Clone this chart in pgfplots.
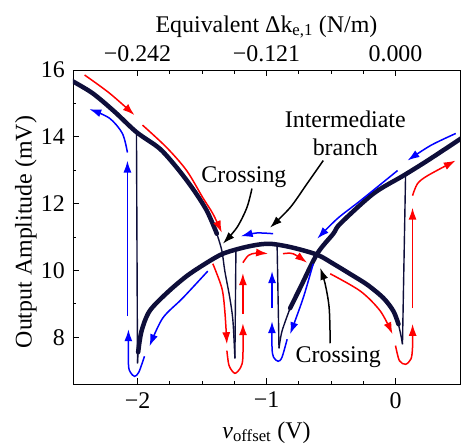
\documentclass[border=0pt]{standalone}
\usepackage{fontspec}
\setmainfont{Liberation Serif}
\usepackage{pgfplots}
\pgfplotsset{compat=1.18}
\usetikzlibrary{arrows.meta}
\definecolor{navy}{RGB}{14,14,58}
\newcommand{\bigf}{\rmfamily\fontsize{24}{28}\selectfont}
\begin{document}
\bigf
\begin{tikzpicture}
\pgfplotsset{
  thickc/.style={navy, line width=4.5bp, smooth, no markers, line cap=round, line join=round},
  thinc/.style={navy, line width=1.4bp, smooth, no markers},
  arr/.style={line width=1.5bp, smooth, no markers, -{Latex[length=12bp,width=8bp]}},
  rarr/.style={arr, red},
  barr/.style={arr, blue},
  karr/.style={arr, black},
  myticks/.style={
    tick label style={font=\bigf},
    label style={font=\bigf},
    tick align=inside,
    major tick length=6bp, minor tick length=3.5bp,
    axis line style={line width=0.9bp},
    every tick/.style={black, line width=0.9bp},
  },
}
\begin{axis}[
  myticks,
  scale only axis, width=387bp, height=314bp,
  xmin=-2.5, xmax=0.5, ymin=6.6, ymax=16,
  xtick={-2,-1,0}, xticklabels={−2,−1,0},
  ytick={8,10,12,14,16}, yticklabels={8,10,12,14,16},
  minor x tick num=3, minor y tick num=1,
  xtick pos=bottom, ytick pos=left,
  xlabel={\textit{v}\textsubscript{offset} (V)},
  ylabel={Output Amplitude (mV)},
  xlabel style={at={(axis description cs:0.5,-0.172)}, anchor=base, inner sep=0pt},
  ylabel style={at={(axis description cs:-0.150,0.484)}, anchor=north, inner sep=0pt},
]
% thick upper-left branch
\addplot[thickc] coordinates {(-2.52,15.70) (-2.35,15.31) (-2.18,14.76) (-2.008,14.14) (-1.829,13.65) (-1.696,13.08) (-1.572,12.45) (-1.463,11.79) (-1.385,11.10)};
\addplot[thinc] coordinates {(-1.385,11.10) (-1.346,10.59) (-1.323,9.98) (-1.284,9.17) (-1.26,8.48) (-1.245,7.37)};
% intermediate branch
\addplot[thinc] coordinates {(-2.0,7.22) (-1.995,7.6)};
\addplot[thickc] coordinates {(-1.995,7.55) (-1.969,8.18) (-1.907,8.78) (-1.774,9.32) (-1.619,9.83) (-1.463,10.23) (-1.338,10.5) (-1.183,10.68) (-1.05,10.78) (-0.949,10.79) (-0.794,10.68) (-0.607,10.47) (-0.482,10.2) (-0.35,9.89) (-0.218,9.57) (-0.093,9.17) (-0.016,8.78) (0.023,8.39)};
\addplot[thinc] coordinates {(0.023,8.39) (0.045,8.0) (0.054,7.79)};
% right rising branch
\addplot[thinc] coordinates {(-0.903,7.67) (-0.88,8.18) (-0.817,8.87)};
\addplot[thickc] coordinates {(-0.817,8.87) (-0.74,9.47) (-0.607,10.5) (-0.482,11.1) (-0.428,11.4) (-0.171,12.3) (0.062,12.84) (0.249,13.29) (0.52,13.98)};
% vertical jumps
\addplot[thinc] coordinates {(-2.0,7.22) (-2.008,14.14)};
\addplot[thinc] coordinates {(-1.245,7.37) (-1.237,10.62)};
\addplot[thinc] coordinates {(-0.903,7.67) (-0.918,10.8)};
\addplot[thinc] coordinates {(0.054,7.79) (0.078,12.84)};
% red arrows
\addplot[rarr] coordinates {(-2.41,15.85) (-2.218,15.31) (-2.023,14.65)};
\addplot[rarr] coordinates {(-1.961,14.35) (-1.774,13.68) (-1.619,12.99) (-1.494,12.18) (-1.416,11.7) (-1.346,11.13)};
\addplot[rarr] coordinates {(-1.416,10.2) (-1.346,9.47) (-1.323,8.78) (-1.307,7.79)};
\addplot[rarr] coordinates {(-1.307,7.6) (-1.29,7.15) (-1.245,6.92) (-1.2,7.1) (-1.183,7.4) (-1.183,8.42)};
\addplot[rarr] coordinates {(-1.183,8.69) (-1.183,9.92)};
\addplot[rarr] coordinates {(-1.183,10.23) (-1.14,10.45) (-1.08,10.52) (-0.988,10.5)};
\addplot[rarr] coordinates {(-0.872,10.5) (-0.794,10.5) (-0.685,10.23)};
\addplot[rarr] coordinates {(-0.506,9.9) (-0.272,9.38) (-0.117,8.78) (-0.023,8.09)};
\addplot[rarr] coordinates {(0.0,7.75) (0.03,7.3) (0.078,7.19) (0.12,7.35) (0.132,7.7) (0.132,8.4)};
\addplot[rarr] coordinates {(0.132,8.87) (0.132,11.88)};
\addplot[rarr] coordinates {(0.132,12.24) (0.171,12.6) (0.25,12.84) (0.467,13.29)};
% blue arrows
\addplot[barr] coordinates {(0.467,14.1) (0.272,13.74) (0.093,13.29)};
\addplot[barr] coordinates {(0.016,12.99) (-0.272,12.09) (-0.451,11.55) (-0.607,10.95)};
\addplot[barr] coordinates {(-0.638,10.2) (-0.716,9.17) (-0.817,8.09)};
\addplot[barr] coordinates {(-0.84,7.94) (-0.88,7.4) (-0.91,7.28) (-0.945,7.4) (-0.957,7.67) (-0.957,8.48)};
\addplot[barr] coordinates {(-0.957,8.87) (-0.957,9.98)};
\addplot[barr] coordinates {(-0.949,11.1) (-1.08,11.12) (-1.2,11.02)};
\addplot[barr] coordinates {(-1.455,9.98) (-1.65,9.17) (-1.805,8.57) (-1.907,7.73)};
\addplot[barr] coordinates {(-1.946,7.43) (-1.99,6.95) (-2.023,6.83) (-2.055,6.95) (-2.07,7.19) (-2.07,8.24)};
\addplot[barr] coordinates {(-2.078,8.63) (-2.078,13.29)};
\addplot[barr] coordinates {(-2.078,13.53) (-2.117,14.1) (-2.218,14.56) (-2.374,14.83)};
% annotation arrows
\addplot[karr] coordinates {(-1.113,12.45) (-1.152,11.88) (-1.23,11.28) (-1.338,10.8)};
\addplot[karr] coordinates {(-0.56,13.29) (-0.685,12.6) (-0.817,11.88) (-0.973,11.28)};
\addplot[karr] coordinates {(-0.506,7.82) (-0.514,8.87) (-0.545,9.59) (-0.584,10.08)};
\node[font=\bigf] at (axis cs:-1.175,12.80) {Crossing};
\node[align=center, font=\bigf] at (axis cs:-0.389,14.11) {Intermediate\\branch};
\node[font=\bigf] at (axis cs:-0.444,7.40) {Crossing};
\end{axis}
\begin{axis}[
  myticks,
  scale only axis, width=387bp, height=314bp,
  xmin=-2.5, xmax=0.5, ymin=6.6, ymax=16,
  axis x line*=top, axis y line=none,
  xtick={-2,-1,0}, xticklabels={−0.242,−0.121,0.000},
  minor x tick num=3,
  xlabel={Equivalent Δk\textsubscript{e,1} (N/m)},
  xlabel style={at={(axis description cs:0.5,1.121)}, anchor=base, inner sep=0pt},
]
\end{axis}
\pgfresetboundingbox
\path[use as bounding box] (-73bp,-63bp) rectangle (388bp,384bp);
\end{tikzpicture}
\end{document}
